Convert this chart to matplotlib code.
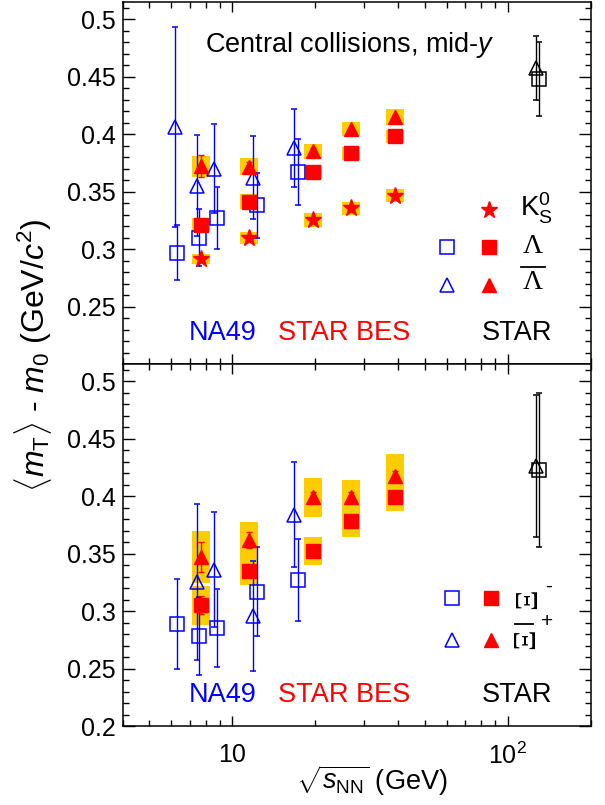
import numpy as np
import matplotlib
matplotlib.use("Agg")
import matplotlib.pyplot as plt
from matplotlib.patches import Rectangle
from matplotlib.ticker import FixedLocator, NullFormatter, FixedFormatter

plt.rcParams['font.family'] = ['Liberation Sans', 'DejaVu Sans']
plt.rcParams['mathtext.fontset'] = 'custom'
plt.rcParams['mathtext.rm'] = 'Liberation Sans'
plt.rcParams['mathtext.it'] = 'Liberation Sans:italic'
plt.rcParams['mathtext.bf'] = 'Liberation Sans:bold'

# ---- data ----
# NA49 (open blue)
na49_sq_x = [6.3, 7.6, 8.8, 12.3, 17.3]
na49_tri_x = [6.2, 7.45, 8.6, 11.9, 16.8]
lam_na49 = [0.297, 0.310, 0.327, 0.338, 0.367]
lam_na49_err = [0.024, 0.025, 0.027, 0.028, 0.029]
alam_na49 = [0.406, 0.355, 0.370, 0.362, 0.388]
alam_na49_err = [0.087, 0.044, 0.039, 0.036, 0.034]

xi_na49 = [0.289, 0.278, 0.285, 0.317, 0.327]
xi_na49_err = [0.039, 0.034, 0.034, 0.039, 0.036]
axi_na49_x = [7.45, 8.6, 11.9, 16.8]
axi_na49 = [0.3255, 0.336, 0.296, 0.384]
axi_na49_err = [0.068, 0.050, 0.048, 0.046]

# STAR BES (filled red, yellow = systematics)
bes_x = [7.7, 11.5, 19.6, 27.0, 39.0]
k0s = [0.2915, 0.3094, 0.3253, 0.3354, 0.3463]
k0s_stat = [0.002, 0.002, 0.002, 0.002, 0.002]
k0s_sys = [0.0043, 0.0052, 0.0065, 0.006, 0.0056]
lam = [0.3212, 0.3411, 0.367, 0.3832, 0.3982]
lam_stat = [0.003, 0.002, 0.002, 0.002, 0.002]
lam_sys = [0.0056, 0.0065, 0.006, 0.006, 0.0056]
alam = [0.3722, 0.3717, 0.3852, 0.4046, 0.415]
alam_stat = [0.0095, 0.004, 0.003, 0.002, 0.002]
alam_sys = [0.0091, 0.0074, 0.0065, 0.006, 0.007]

xi = [0.3051, 0.335, 0.3525, 0.3783, 0.3995]
xi_stat = [0.008, 0.005, 0.004, 0.004, 0.003]
xi_sys = [0.017, 0.012, 0.012, 0.014, 0.012]
axi = [0.3472, 0.3618, 0.399, 0.399, 0.4178]
axi_stat = [0.013, 0.007, 0.005, 0.005, 0.004]
axi_sys = [0.0227, 0.016, 0.017, 0.015, 0.019]

# STAR 130 GeV (open black)
star_sq_x = [130.0]
star_tri_x = [127.0]
lam_star = [0.4478]
lam_star_err = [0.032]
alam_star = [0.4573]
alam_star_err = [0.028]
xi_star = [0.4227]
xi_star_err = [0.067]
axi_star = [0.4262]
axi_star_err = [0.062]

BLUE = '#0000ff'
RED = '#ff0000'
GOLD = '#ffcc00'
BOXF = 1.078  # half-width of systematic boxes (log factor)
MS_SQ = 9.5
MS_TRI = 10.5


def sys_boxes(ax, x, y, s):
    for xi_, yi, si in zip(x, y, s):
        ax.add_patch(Rectangle((xi_ / BOXF, yi - si), xi_ * BOXF - xi_ / BOXF, 2 * si,
                               facecolor=GOLD, edgecolor='none', zorder=1))


def open_pts(ax, x, y, e, m, c, ms):
    ax.errorbar(x, y, yerr=e, fmt=m, color=c, mfc='none', mec=c, ms=ms, mew=1.1,
                elinewidth=1.0, capsize=2.5, capthick=1.0, zorder=3)


def filled_pts(ax, x, y, e, m, ms):
    ax.errorbar(x, y, yerr=e, fmt=m, color=RED, mfc=RED, mec=RED, ms=ms,
                elinewidth=1.0, capsize=2.5, capthick=1.0, zorder=4)


fig = plt.figure(figsize=(6.05, 8.05), dpi=100)
L, R = 122.7 / 605, 590.7 / 605
ax1 = fig.add_axes([L, 1 - 364 / 805, R - L, 362 / 805])
ax2 = fig.add_axes([L, 1 - 726 / 805, R - L, 362 / 805])

for ax in (ax1, ax2):
    ax.set_xscale('log')
    ax.set_xlim(4, 200)
    ax.set_ylim(0.2, 0.515)
    ax.xaxis.set_major_locator(FixedLocator([10, 100]))
    ax.xaxis.set_minor_locator(FixedLocator([4, 5, 6, 7, 8, 9, 20, 30, 40, 50, 60, 70, 80, 90, 200]))
    ax.xaxis.set_minor_formatter(NullFormatter())
    ax.yaxis.set_major_locator(FixedLocator([0.2, 0.25, 0.3, 0.35, 0.4, 0.45, 0.5]))
    ax.yaxis.set_minor_locator(FixedLocator(np.arange(0.2, 0.515, 0.01)))
    ax.tick_params(which='both', direction='in', top=True, right=True, width=1.0,
                   labelsize=18, colors='black')
    ax.tick_params(axis='y', which='major', length=8.5, pad=5)
    ax.tick_params(axis='y', which='minor', length=4.5)
    ax.tick_params(axis='x', which='major', length=7.5, pad=12)
    ax.tick_params(axis='x', which='minor', length=4.3)
    for sp in ax.spines.values():
        sp.set_linewidth(1.1)

ax1.yaxis.set_major_formatter(FixedFormatter(['', '0.25', '0.3', '0.35', '0.4', '0.45', '0.5']))
ax2.yaxis.set_major_formatter(FixedFormatter(['0.2', '0.25', '0.3', '0.35', '0.4', '0.45', '0.5']))
ax1.xaxis.set_major_formatter(NullFormatter())
ax2.xaxis.set_major_formatter(FixedFormatter(['10', r'$10^2$']))

# ---- top panel ----
sys_boxes(ax1, bes_x, k0s, k0s_sys)
sys_boxes(ax1, bes_x, lam, lam_sys)
sys_boxes(ax1, bes_x, alam, alam_sys)
open_pts(ax1, na49_sq_x, lam_na49, lam_na49_err, 's', BLUE, MS_SQ)
open_pts(ax1, na49_tri_x, alam_na49, alam_na49_err, '^', BLUE, MS_TRI)
open_pts(ax1, star_sq_x, lam_star, lam_star_err, 's', 'black', MS_SQ)
open_pts(ax1, star_tri_x, alam_star, alam_star_err, '^', 'black', MS_TRI)
filled_pts(ax1, bes_x, k0s, k0s_stat, '*', 12.5)
filled_pts(ax1, bes_x, lam, lam_stat, 's', MS_SQ)
filled_pts(ax1, bes_x, alam, alam_stat, '^', MS_TRI)

ax1.text(0.176, 0.881, 'Central collisions, mid-$y$', transform=ax1.transAxes,
         fontsize=19.5, ha='left', va='center')
for ax in (ax1, ax2):
    ax.text(0.142, 0.086, 'NA49', color=BLUE, transform=ax.transAxes, fontsize=19.5, va='center')
    ax.text(0.332, 0.086, 'STAR BES', color=RED, transform=ax.transAxes, fontsize=19.5, va='center')
    ax.text(0.768, 0.086, 'STAR', color='black', transform=ax.transAxes, fontsize=19.5, va='center')

# top legend
ax1.plot([0.783], [0.425], '*', color=RED, ms=12.5, transform=ax1.transAxes)
ax1.plot([0.692], [0.324], 's', mfc='none', mec=BLUE, ms=MS_SQ, mew=1.1, transform=ax1.transAxes)
ax1.plot([0.783], [0.324], 's', color=RED, ms=MS_SQ, transform=ax1.transAxes)
ax1.plot([0.692], [0.218], '^', mfc='none', mec=BLUE, ms=MS_TRI, mew=1.1, transform=ax1.transAxes)
ax1.plot([0.783], [0.218], '^', color=RED, ms=MS_TRI, transform=ax1.transAxes)
ax1.text(0.849, 0.43, r'K$^0_{\rm S}$', transform=ax1.transAxes, fontsize=20, va='center')
ax1.text(0.877, 0.324, 'Λ', family='Liberation Serif', transform=ax1.transAxes,
         fontsize=20, ha='center', va='center')
ax1.text(0.877, 0.226, 'Λ', family='Liberation Serif', transform=ax1.transAxes,
         fontsize=20, ha='center', va='center')
ax1.plot([0.851, 0.903], [0.269, 0.269], color='black', lw=1.3, transform=ax1.transAxes)

# ---- bottom panel ----
sys_boxes(ax2, bes_x, xi, xi_sys)
sys_boxes(ax2, bes_x, axi, axi_sys)
open_pts(ax2, na49_sq_x, xi_na49, xi_na49_err, 's', BLUE, MS_SQ)
open_pts(ax2, axi_na49_x, axi_na49, axi_na49_err, '^', BLUE, MS_TRI)
open_pts(ax2, star_sq_x, xi_star, xi_star_err, 's', 'black', MS_SQ)
open_pts(ax2, star_tri_x, axi_star, axi_star_err, '^', 'black', MS_TRI)
filled_pts(ax2, bes_x, xi, xi_stat, 's', MS_SQ)
filled_pts(ax2, bes_x, axi, axi_stat, '^', MS_TRI)

# bottom legend (the Xi glyph is drawn on its side, as in the original)
ax2.plot([0.703], [0.353], 's', mfc='none', mec=BLUE, ms=MS_SQ, mew=1.1, transform=ax2.transAxes)
ax2.plot([0.788], [0.353], 's', color=RED, ms=MS_SQ, transform=ax2.transAxes)
ax2.plot([0.703], [0.238], '^', mfc='none', mec=BLUE, ms=MS_TRI, mew=1.1, transform=ax2.transAxes)
ax2.plot([0.788], [0.238], '^', color=RED, ms=MS_TRI, transform=ax2.transAxes)
ax2.text(0.868, 0.352, 'Ξ', family='Liberation Serif', rotation=90, transform=ax2.transAxes,
         fontsize=23, ha='center', va='center')
ax2.text(0.909, 0.385, '-', transform=ax2.transAxes, fontsize=15, ha='center', va='center')
ax2.text(0.863, 0.24, 'Ξ', family='Liberation Serif', rotation=90, transform=ax2.transAxes,
         fontsize=23, ha='center', va='center')
ax2.plot([0.838, 0.876], [0.281, 0.281], color='black', lw=1.3, transform=ax2.transAxes)
ax2.text(0.907, 0.288, '+', transform=ax2.transAxes, fontsize=15, ha='center', va='center')

fig.text(33 / 605, 1 - 355 / 805, r'$\langle m_{\rm T}\rangle$ - $m_0$ (GeV/$c^2$)',
         rotation=90, fontsize=23, ha='center', va='center')
fig.text(372 / 605, 1 - 781 / 805, r'$\sqrt{s_{\rm NN}}$ (GeV)', fontsize=19.5,
         ha='center', va='center')

fig.savefig('out.png', dpi=100)
